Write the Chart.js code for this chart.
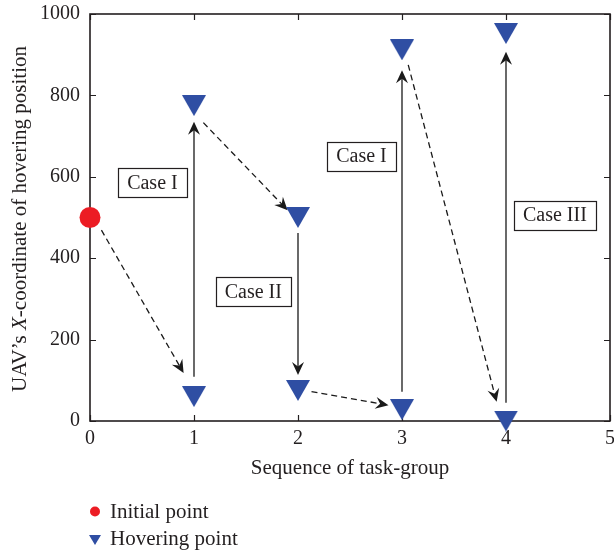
<!DOCTYPE html>
<html>
<head>
<meta charset="utf-8">
<script src="https://cdn.jsdelivr.net/npm/chart.js@4/dist/chart.umd.min.js"></script>
<style>
  html, body { margin: 0; padding: 0; background: #fff; }
  #wrap { width: 614px; height: 554px; }
</style>
</head>
<body>
<div id="wrap"><canvas id="c" width="614" height="554"></canvas></div>
<script>
// Task-group sequence and UAV hovering X-coordinates
const initialX = [0];
const initialY = [500];
const hoverX = [1, 1, 2, 2, 3, 3, 4, 4];
const hoverY = [60, 775, 500, 75, 28, 912, 0, 952];

// Transition arrows between hovering positions (data coordinates)
const arrowFromX = [0.11, 1, 1.09, 2, 2.13, 3, 3.06, 4];
const arrowFromY = [469, 109, 733, 462, 72, 72, 875, 45];
const arrowToX   = [0.90, 1, 1.90, 2, 2.87, 3, 3.91, 4];
const arrowToY   = [118, 735, 518, 113, 39, 862, 47, 907];
const arrowDashed = [true, false, true, false, true, false, true, false];

// Case annotations
const caseLabels = ['Case I', 'Case II', 'Case I', 'Case III'];
const caseX = [0.6, 1.57, 2.61, 4.47];
const caseY = [585, 318, 651, 506];

const xTicks = [0, 1, 2, 3, 4, 5];
const yTicks = [0, 200, 400, 600, 800, 1000];

const FONT = '"Liberation Serif", "Times New Roman", serif';
const INK = '#231f20';
const RED = '#ec1c24';
const BLUE = '#2f4ea3';

function downTriangle(w, h) {
  const cv = document.createElement('canvas');
  cv.width = w; cv.height = h;
  const g = cv.getContext('2d');
  g.fillStyle = BLUE;
  g.beginPath();
  g.moveTo(0, 0); g.lineTo(w, 0); g.lineTo(w / 2, h); g.closePath();
  g.fill();
  return cv;
}
const triBig = downTriangle(24, 21);
const triSmall = downTriangle(12, 10);

function arrowHead(ctx, x1, y1, x2, y2) {
  const ang = Math.atan2(y2 - y1, x2 - x1);
  const L = 13, W = 6, back = 8.5;
  ctx.save();
  ctx.translate(x2, y2);
  ctx.rotate(ang);
  ctx.setLineDash([]);
  ctx.beginPath();
  ctx.moveTo(0, 0);
  ctx.lineTo(-L, -W);
  ctx.lineTo(-back, 0);
  ctx.lineTo(-L, W);
  ctx.closePath();
  ctx.fill();
  ctx.restore();
}

const decorations = {
  id: 'decorations',
  beforeDatasetsDraw(chart) {
    const { ctx, chartArea: a, scales: { x, y } } = chart;
    ctx.save();
    // inward ticks on all four sides
    ctx.strokeStyle = INK;
    ctx.lineWidth = 1.2;
    const tl = 6;
    ctx.beginPath();
    xTicks.forEach(v => {
      const px = Math.round(x.getPixelForValue(v)) + 0.5;
      ctx.moveTo(px, a.bottom); ctx.lineTo(px, a.bottom - tl);
      ctx.moveTo(px, a.top); ctx.lineTo(px, a.top + tl);
    });
    yTicks.forEach(v => {
      const py = Math.round(y.getPixelForValue(v)) + 0.5;
      ctx.moveTo(a.left, py); ctx.lineTo(a.left + tl, py);
      ctx.moveTo(a.right, py); ctx.lineTo(a.right - tl, py);
    });
    ctx.stroke();
    // frame
    ctx.lineWidth = 1.6;
    ctx.strokeRect(a.left, a.top, a.right - a.left, a.bottom - a.top);

    // arrows
    ctx.strokeStyle = '#1a1a1a';
    ctx.fillStyle = '#1a1a1a';
    ctx.lineWidth = 1.3;
    for (let i = 0; i < arrowFromX.length; i++) {
      const x1 = x.getPixelForValue(arrowFromX[i]);
      const y1 = y.getPixelForValue(arrowFromY[i]);
      const x2 = x.getPixelForValue(arrowToX[i]);
      const y2 = y.getPixelForValue(arrowToY[i]);
      const ang = Math.atan2(y2 - y1, x2 - x1);
      ctx.setLineDash(arrowDashed[i] ? [6, 4] : []);
      ctx.beginPath();
      ctx.moveTo(x1, y1);
      ctx.lineTo(x2 - Math.cos(ang) * 8, y2 - Math.sin(ang) * 8);
      ctx.stroke();
      arrowHead(ctx, x1, y1, x2, y2);
    }
    ctx.setLineDash([]);

    // case boxes
    ctx.font = '20px ' + FONT;
    ctx.textAlign = 'center';
    ctx.textBaseline = 'middle';
    for (let i = 0; i < caseLabels.length; i++) {
      const cx = x.getPixelForValue(caseX[i]);
      const cy = y.getPixelForValue(caseY[i]);
      const w = ctx.measureText(caseLabels[i]).width + 18;
      const h = 29;
      ctx.fillStyle = '#fff';
      ctx.fillRect(cx - w / 2, cy - h / 2, w, h);
      ctx.strokeStyle = INK;
      ctx.lineWidth = 1.2;
      ctx.strokeRect(Math.round(cx - w / 2) + 0.5, Math.round(cy - h / 2) + 0.5, Math.round(w), h);
      ctx.fillStyle = INK;
      ctx.fillText(caseLabels[i], cx, cy + 1);
    }
    ctx.restore();
  },
  afterDraw(chart) {
    const { ctx, chartArea: a } = chart;
    ctx.save();
    ctx.fillStyle = INK;
    ctx.font = '21px ' + FONT;
    // x-axis title
    ctx.textAlign = 'center';
    ctx.textBaseline = 'middle';
    ctx.fillText('Sequence of task-group', (a.left + a.right) / 2, 468);

    // y-axis title with italic X
    const parts = [
      { t: 'UAV\u2019s ', f: '21px ' + FONT },
      { t: 'X', f: 'italic 21px ' + FONT },
      { t: '-coordinate of hovering position', f: '21px ' + FONT }
    ];
    let total = 0;
    parts.forEach(p => { ctx.font = p.f; p.w = ctx.measureText(p.t).width; total += p.w; });
    ctx.translate(20, 219);
    ctx.rotate(-Math.PI / 2);
    ctx.textAlign = 'left';
    let pos = -total / 2;
    parts.forEach(p => { ctx.font = p.f; ctx.fillText(p.t, pos, 0); pos += p.w; });
    ctx.restore();

    // legend
    ctx.save();
    ctx.font = '21px ' + FONT;
    ctx.textBaseline = 'middle';
    ctx.fillStyle = RED;
    ctx.beginPath();
    ctx.arc(95, 511.5, 5, 0, Math.PI * 2);
    ctx.fill();
    ctx.drawImage(triSmall, 89, 535);
    ctx.fillStyle = INK;
    chart.data.datasets.forEach((ds, i) => {
      ctx.fillText(ds.label, 110, 512 + i * 27);
    });
    ctx.restore();
  }
};

const chart = new Chart(document.getElementById('c'), {
  type: 'scatter',
  data: {
    datasets: [
      {
        label: 'Initial point',
        data: initialX.map((v, i) => ({ x: v, y: initialY[i] })),
        pointStyle: 'circle',
        pointRadius: 10.5,
        pointHoverRadius: 10.5,
        backgroundColor: RED,
        borderWidth: 0,
        clip: false
      },
      {
        label: 'Hovering point',
        data: hoverX.map((v, i) => ({ x: v, y: hoverY[i] })),
        pointStyle: triBig,
        pointRadius: 12,
        backgroundColor: BLUE,
        borderWidth: 0,
        clip: false
      }
    ]
  },
  options: {
    responsive: false,
    animation: false,
    layout: { autoPadding: false, padding: { left: 0, right: 4, top: 14, bottom: 0 } },
    plugins: { legend: { display: false }, tooltip: { enabled: false } },
    scales: {
      x: {
        type: 'linear', min: 0, max: 5,
        afterFit: s => { s.height = 133; s.paddingLeft = 0; s.paddingRight = 0; },
        afterBuildTicks: s => { s.ticks = xTicks.map(v => ({ value: v })); },
        grid: { display: false, drawTicks: false },
        border: { display: false },
        ticks: { padding: 6, color: INK, font: { family: FONT, size: 20 }, callback: v => String(v) }
      },
      y: {
        type: 'linear', min: 0, max: 1000,
        afterFit: s => { s.width = 90; s.paddingTop = 0; s.paddingBottom = 0; },
        afterBuildTicks: s => { s.ticks = yTicks.map(v => ({ value: v })); },
        grid: { display: false, drawTicks: false },
        border: { display: false },
        ticks: { padding: 10, color: INK, font: { family: FONT, size: 20 }, callback: v => String(v) }
      }
    }
  },
  plugins: [decorations]
});
</script>
</body>
</html>
